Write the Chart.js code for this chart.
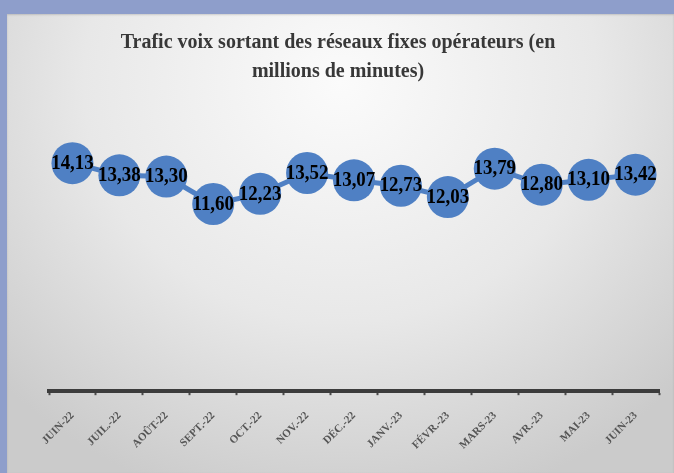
<!DOCTYPE html>
<html lang="fr">
<head>
<meta charset="utf-8">
<title>Trafic voix sortant des réseaux fixes opérateurs</title>
<script src="https://cdn.jsdelivr.net/npm/chart.js@4.4.1/dist/chart.umd.min.js"></script>
<style>
    html, body {
        margin: 0;
        padding: 0;
        width: 674px;
        height: 473px;
        overflow: hidden;
        background: #8e9ecb;
    }
    #panel {
        position: absolute;
        left: 7px;
        top: 14px;
        right: 0;
        bottom: 0;
        background: radial-gradient(ellipse 70% 95% at 50% 15%, #fbfbfb 0%, #e8e8e8 55%, #cbcbcb 100%);
        box-shadow: inset 0 1px 2px rgba(0, 0, 0, 0.15);
    }
    #wrap {
        position: absolute;
        left: 0;
        top: 0;
        width: 674px;
        height: 473px;
    }
</style>
</head>
<body>
<div id="panel"></div>
<div id="wrap"><canvas id="trafficChart" width="674" height="473"></canvas></div>
<script>
// ===========================
// DATA
// ===========================
const titleLines = [
    'Trafic voix sortant des réseaux fixes opérateurs (en',
    'millions de minutes)'
];

const months = [
    'JUIN-22', 'JUIL.-22', 'AOÛT-22', 'SEPT.-22', 'OCT.-22', 'NOV.-22', 'DÉC.-22',
    'JANV.-23', 'FÉVR.-23', 'MARS-23', 'AVR.-23', 'MAI-23', 'JUIN-23'
];

const trafficValues = [14.13, 13.38, 13.30, 11.60, 12.23, 13.52, 13.07, 12.73, 12.03, 13.79, 12.80, 13.10, 13.42];

const blue = '#4f80c4';
const serif = '"Liberation Serif", "Times New Roman", serif';

// Draws text squeezed horizontally (the original uses a narrow bold serif)
function drawCondensed(ctx, text, x, y, font, color, squeeze) {
    ctx.save();
    ctx.font = font;
    ctx.fillStyle = color;
    ctx.textAlign = 'center';
    ctx.textBaseline = 'middle';
    ctx.translate(x, y);
    ctx.scale(squeeze, 1);
    ctx.fillText(text, 0, 0);
    ctx.restore();
}

// Title + value labels inside the bubbles
const labelPlugin = {
    id: 'labelPlugin',
    afterDatasetsDraw(chart) {
        const ctx = chart.ctx;
        const meta = chart.getDatasetMeta(0);
        meta.data.forEach((pt, i) => {
            const txt = trafficValues[i].toFixed(2).replace('.', ',');
            drawCondensed(ctx, txt, pt.x, pt.y, 'bold 22px ' + serif, '#000', 0.86);
        });
    },
    afterDraw(chart) {
        const ctx = chart.ctx;
        drawCondensed(ctx, titleLines[0], 338, 43, 'bold 20px ' + serif, '#383838', 1);
        drawCondensed(ctx, titleLines[1], 338, 72, 'bold 20px ' + serif, '#383838', 1);
    }
};

const ctx = document.getElementById('trafficChart').getContext('2d');

new Chart(ctx, {
    type: 'line',
    data: {
        labels: months,
        datasets: [{
            label: 'Trafic voix sortant',
            data: trafficValues,
            borderColor: blue,
            backgroundColor: blue,
            borderWidth: 5,
            tension: 0,
            pointRadius: 21,
            pointHoverRadius: 21,
            pointBorderWidth: 0,
            pointBackgroundColor: blue,
            clip: false
        }]
    },
    options: {
        responsive: false,
        animation: false,
        layout: {
            autoPadding: false,
            padding: { top: 133, left: 49, right: 15, bottom: 7 }
        },
        plugins: {
            legend: { display: false },
            title: { display: false },
            tooltip: { enabled: false }
        },
        scales: {
            x: {
                offset: true,
                afterFit: function(scale) {
                    // no extra room for the rotated end labels
                    scale.paddingLeft = 0;
                    scale.paddingRight = 0;
                },
                grid: {
                    offset: true,
                    drawOnChartArea: false,
                    drawTicks: true,
                    tickLength: 4,
                    tickColor: '#4a4a4a',
                    tickWidth: 2
                },
                border: {
                    display: true,
                    color: '#3c3c3c',
                    width: 4
                },
                ticks: {
                    color: '#555555',
                    padding: 14,
                    autoSkip: false,
                    minRotation: 45,
                    maxRotation: 45,
                    font: {
                        family: serif,
                        size: 11,
                        weight: 'bold'
                    }
                }
            },
            y: {
                display: false,
                min: 0,
                max: 16
            }
        }
    },
    plugins: [labelPlugin]
});
</script>
</body>
</html>
